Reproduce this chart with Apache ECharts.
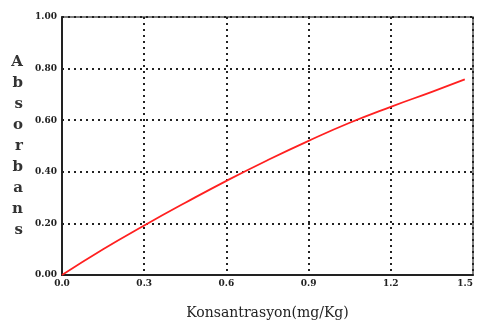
<!DOCTYPE html>
<html><head><meta charset="utf-8">
<script src="https://cdn.jsdelivr.net/npm/echarts@6/dist/echarts.min.js"></script>
<style>html,body{margin:0;padding:0;background:#fff}#c{width:479px;height:327px}</style>
</head><body><div id="c"></div>
<script>
const concentration = [0, 0.15, 0.3, 0.45, 0.6, 0.75, 0.9, 1.05, 1.2, 1.35, 1.47];
const absorbance = [0, 0.1, 0.192, 0.28, 0.365, 0.445, 0.52, 0.59, 0.652, 0.71, 0.758];
const xTicks = ['0.0','0.3','0.6','0.9','1.2','1.5'];
const yTicks = ['0.00','0.20','0.40','0.60','0.80','1.00'];
const yTitle = 'Absorbans';
const xTitle = 'Konsantrasyon(mg/Kg)';

const chart = echarts.init(document.getElementById('c'));
const serif = 'DejaVu Serif';
chart.setOption({
  animation: false,
  grid: {left: 62, right: 6, top: 17, bottom: 52, show: true, borderColor: '#555', borderWidth: 1.5,
         outerBoundsMode: 'none', containLabel: false},
  xAxis: {
    type: 'value', min: 0, max: 1.5, interval: 0.3,
    name: xTitle, nameLocation: 'middle', nameGap: 31,
    nameTextStyle: {fontFamily: serif, fontSize: 14, color: '#222'},
    axisLine: {show: true, lineStyle: {color: '#222', width: 2}},
    axisTick: {show: false},
    axisLabel: {fontFamily: serif, fontSize: 9, fontWeight: 'bold', color: '#222', margin: 4,
      alignMaxLabel: 'right',
      formatter: (v) => xTicks[Math.round(v / 0.3)]},
    splitLine: {show: true, lineStyle: {type: [2, 4], color: '#222', width: 2}}
  },
  yAxis: {
    type: 'value', min: 0, max: 1, interval: 0.2,
    name: yTitle.split('').join('\n'), nameLocation: 'middle', nameGap: 39, nameRotate: 0,
    nameTextStyle: {fontFamily: serif, fontSize: 15, fontWeight: 'bold', color: '#333', lineHeight: 21},
    axisLine: {show: true, lineStyle: {color: '#222', width: 2}},
    axisTick: {show: false},
    axisLabel: {fontFamily: serif, fontSize: 9, fontWeight: 'bold', color: '#222', margin: 5,
      formatter: (v) => yTicks[Math.round(v / 0.2)]},
    splitLine: {show: true, lineStyle: {type: [2, 4], color: '#222', width: 2}}
  },
  series: [{
    type: 'line', smooth: true, showSymbol: false,
    data: concentration.map((x, i) => [x, absorbance[i]]),
    lineStyle: {color: '#ff2020', width: 1.8}
  }]
});
</script></body></html>
